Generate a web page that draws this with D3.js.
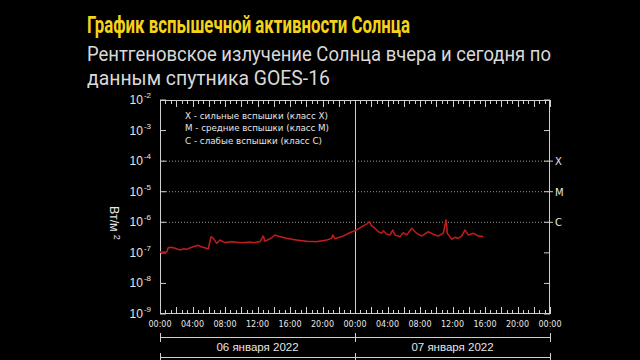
<!DOCTYPE html>
<html><head><meta charset="utf-8">
<script src="https://cdn.jsdelivr.net/npm/d3@7"></script>
<style>html,body{margin:0;padding:0;background:#000;}svg{display:block;}</style>
</head><body>
<svg id="c" width="640" height="360"></svg>
<script>
// ---- data ----
const title = "График вспышечной активности Солнца";
const subtitle1 = "Рентгеновское излучение Солнца вчера и сегодня по";
const subtitle2 = "данным спутника GOES-16";
const yLabel = "Вт/м";
const legendItems = ["X - сильные вспышки (класс X)", "M - средние вспышки (класс M)", "C - слабые вспышки (класс C)"];
const classLabels = ["X", "M", "C"];
const classLevels = [1e-4, 1e-5, 1e-6];
const yTickExps = [-2, -3, -4, -5, -6, -7, -8, -9];
const xTickLabels = ["00:00","04:00","08:00","12:00","16:00","20:00","00:00","04:00","08:00","12:00","16:00","20:00","00:00"];
const dateLabels = ["06 января 2022", "07 января 2022"];
// hours since 06 Jan 00:00 UTC
const hours = [0,0.82,1.02,1.44,2.0,2.46,2.9,3.29,3.7,4.10,4.71,5.0,5.33,5.94,6.28,6.56,6.98,7.38,8.0,8.82,9.5,10.25,11.0,11.48,12.31,12.71,12.92,13.75,14.15,14.77,15.59,16.82,18.06,19.29,20.52,21.13,21.26,21.54,22.56,23.38,24.21,24.82,25.44,25.76,26.06,26.46,26.87,27.29,27.48,27.90,28.31,28.64,28.92,29.54,29.94,30.36,30.98,31.59,32.21,33.02,33.64,34.25,34.87,35.2,35.36,35.61,35.90,36.31,36.71,37.13,37.54,37.94,38.56,39.18,39.79];
const flux = [1.05e-7,1.05e-7,1.48e-7,1.52e-7,1.38e-7,1.24e-7,1.36e-7,1.31e-7,1.45e-7,1.59e-7,1.77e-7,1.6e-7,1.52e-7,1.34e-7,3.37e-7,2.99e-7,2.05e-7,2.63e-7,2.15e-7,2.32e-7,2.2e-7,2.15e-7,2.25e-7,2.15e-7,2.32e-7,3.56e-7,2.39e-7,3.13e-7,3.84e-7,3.37e-7,2.99e-7,2.63e-7,2.39e-7,2.32e-7,2.63e-7,2.99e-7,3.84e-7,2.90e-7,3.56e-7,4.6e-7,5.59e-7,7.16e-7,8.79e-7,1.04e-6,7.55e-7,6.35e-7,4.92e-7,4.36e-7,5.31e-7,4.14e-7,3.84e-7,5.59e-7,3.84e-7,3.37e-7,4.56e-7,3.84e-7,6.35e-7,4.36e-7,3.56e-7,4.92e-7,4.05e-7,3.56e-7,4.36e-7,1.19e-6,4.36e-7,3.56e-7,2.77e-7,3.23e-7,2.99e-7,3.56e-7,5.59e-7,3.84e-7,4.36e-7,3.56e-7,3.37e-7];

// ---- layout ----
const svg = d3.select("#c");
const L = 160, R = 550, T = 100, B = 314;
const x = d3.scaleLinear().domain([0, 48]).range([L, R]);
const y = d3.scaleLog().domain([1e-9, 1e-2]).range([B, T]);
const axisCol = "#cfcfcf";
const textCol = "#e6e6e6";

svg.append("rect").attr("width", 640).attr("height", 360).attr("fill", "#000");

// titles
svg.append("text").attr("x", 87).attr("y", 33).text(title)
  .attr("font-family", "Roboto").attr("font-weight", "bold").attr("font-size", 23)
  .attr("fill", "#f3d21c").attr("textLength", 323).attr("lengthAdjust", "spacingAndGlyphs");
svg.append("text").attr("x", 87).attr("y", 61).text(subtitle1)
  .attr("font-family", "Roboto").attr("font-size", 19.5)
  .attr("fill", "#d9d9d9").attr("textLength", 464).attr("lengthAdjust", "spacingAndGlyphs");
svg.append("text").attr("x", 87).attr("y", 85).text(subtitle2)
  .attr("font-family", "Roboto").attr("font-size", 19.5)
  .attr("fill", "#d9d9d9").attr("textLength", 243).attr("lengthAdjust", "spacingAndGlyphs");

// grid (dotted) at class levels
svg.append("g").selectAll("line").data(classLevels).join("line")
  .attr("x1", L).attr("x2", R).attr("y1", d => y(d)).attr("y2", d => y(d))
  .attr("stroke", "#9a9a9a").attr("stroke-width", 1).attr("stroke-dasharray", "1,2");

// x ticks (every 40 min, taller every 2 h) top & bottom
const minor = d3.range(0, 48 + 0.001, 2/3);
function tickLen(h){ return Math.abs(h/2 - Math.round(h/2)) < 0.01 ? 7 : 4; }
const gx = svg.append("g").attr("stroke", axisCol).attr("stroke-width", 1);
gx.selectAll(".tb").data(minor).join("line")
  .attr("x1", d => Math.round(x(d)) + 0.5).attr("x2", d => Math.round(x(d)) + 0.5)
  .attr("y1", B).attr("y2", d => B - tickLen(d));
gx.selectAll(".tt").data(minor).join("line")
  .attr("x1", d => Math.round(x(d)) + 0.5).attr("x2", d => Math.round(x(d)) + 0.5)
  .attr("y1", T).attr("y2", d => T + tickLen(d));

// y ticks left & right
const gy = svg.append("g").attr("stroke", axisCol).attr("stroke-width", 1);
gy.selectAll(".yl").data(yTickExps).join("line")
  .attr("x1", L).attr("x2", L + 6).attr("y1", d => y(Math.pow(10, d))).attr("y2", d => y(Math.pow(10, d)));
gy.selectAll(".yr").data(yTickExps).join("line")
  .attr("x1", R - 6).attr("x2", R).attr("y1", d => y(Math.pow(10, d))).attr("y2", d => y(Math.pow(10, d)));
gy.selectAll(".yc").data(classLevels).join("line")
  .attr("x1", R).attr("x2", R + 3).attr("y1", d => y(d)).attr("y2", d => y(d));

// frame and midnight line
svg.append("rect").attr("x", L + 0.5).attr("y", T + 0.5).attr("width", R - L - 1).attr("height", B - T - 1)
  .attr("fill", "none").attr("stroke", axisCol).attr("stroke-width", 1);
svg.append("line").attr("x1", Math.round(x(24)) + 0.5).attr("x2", Math.round(x(24)) + 0.5)
  .attr("y1", T).attr("y2", B).attr("stroke", axisCol).attr("stroke-width", 1);

// y tick labels 10^n
const yl = svg.append("g").attr("font-family", "Liberation Sans, Arial, sans-serif").attr("fill", textCol);
yTickExps.forEach(e => {
  const t = yl.append("text").attr("x", 151).attr("y", y(Math.pow(10, e)) + 4).attr("text-anchor", "end").attr("font-size", 12);
  t.append("tspan").text("10");
  t.append("tspan").attr("dy", -6).attr("dx", 1).attr("font-size", 8).text(String(e));
});

// class labels
svg.append("g").selectAll("text").data(classLabels).join("text")
  .attr("x", 555).attr("y", (d, i) => y(classLevels[i]) + 4).text(d => d)
  .attr("font-family", "DejaVu Sans, sans-serif").attr("font-size", 10).attr("fill", textCol);

// legend
const legLen = [143, 144, 137];
svg.append("g").selectAll("text").data(legendItems).join("text")
  .attr("x", 185).attr("y", (d, i) => 118.5 + i * 12.6).text(d => d)
  .attr("font-family", "DejaVu Sans, sans-serif").attr("font-size", 8.8).attr("fill", textCol)
  .attr("textLength", (d, i) => legLen[i]).attr("lengthAdjust", "spacingAndGlyphs");

// y axis label (rotated)
const yt = svg.append("text").attr("transform", "translate(110,206) rotate(90)")
  .attr("font-family", "Liberation Sans, Arial, sans-serif").attr("font-size", 12.5).attr("fill", textCol);
yt.append("tspan").text(yLabel);
yt.append("tspan").attr("dx", 3).attr("dy", -4).attr("font-size", 9).text("2");

// x tick labels
svg.append("g").selectAll("text").data(xTickLabels).join("text")
  .attr("x", (d, i) => x(i * 4)).attr("y", 327).attr("text-anchor", "middle").text(d => d)
  .attr("font-family", "DejaVu Sans, sans-serif").attr("font-size", 8).attr("fill", textCol);

// date brackets
const gb = svg.append("g").attr("stroke", axisCol).attr("stroke-width", 1);
gb.append("line").attr("x1", L).attr("x2", R).attr("y1", 337.5).attr("y2", 337.5);
gb.append("line").attr("x1", L).attr("x2", R).attr("y1", 357.5).attr("y2", 357.5);
[0, 24, 48].forEach(h => {
  const xx = Math.round(x(h)) + 0.5;
  gb.append("line").attr("x1", xx).attr("x2", xx).attr("y1", 333).attr("y2", 342);
  gb.append("line").attr("x1", xx).attr("x2", xx).attr("y1", 353).attr("y2", 360);
});
svg.append("g").selectAll("text").data(dateLabels).join("text")
  .attr("x", (d, i) => x(12 + i * 24)).attr("y", 351).attr("text-anchor", "middle").text(d => d)
  .attr("font-family", "Liberation Sans, Arial, sans-serif").attr("font-size", 11.5).attr("fill", textCol);

// flux line
const pts = hours.map((h, i) => [h, flux[i]]);
const line = d3.line().x(d => x(d[0])).y(d => y(d[1]));
svg.append("path").datum(pts).attr("d", line).attr("fill", "none")
  .attr("stroke", "#7a1010").attr("stroke-width", 1.8).attr("stroke-linejoin", "round");
svg.append("path").datum(pts).attr("d", line).attr("fill", "none")
  .attr("stroke", "#d42424").attr("stroke-width", 0.9).attr("stroke-linejoin", "round");
</script>
</body></html>
